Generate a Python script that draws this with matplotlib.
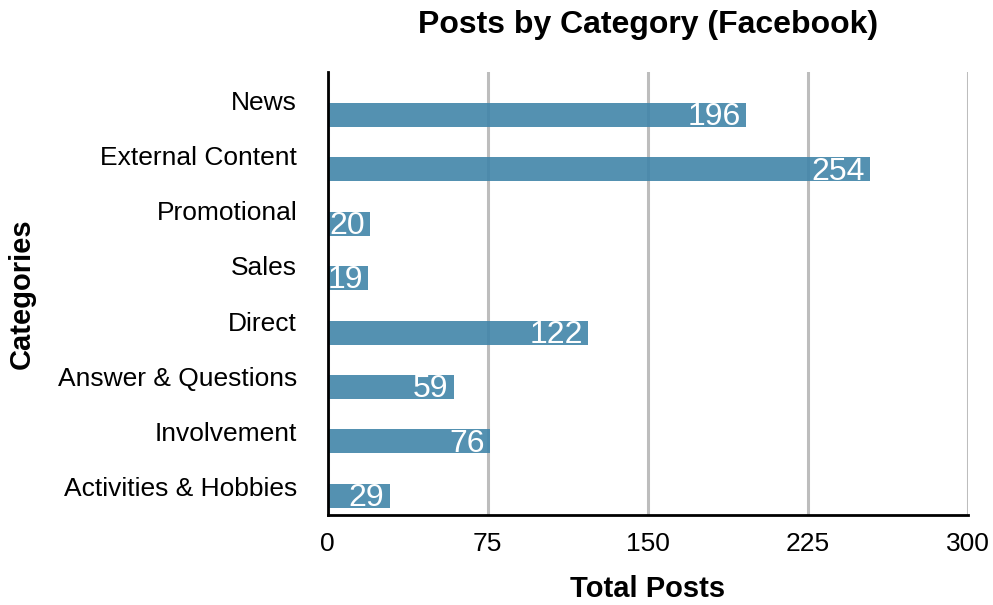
import matplotlib.pyplot as plt

# Data
categories = [
    "News", "External Content", "Promotional", "Sales",
    "Direct", "Answer & Questions", "Involvement", "Activities & Hobbies",
]
total_posts = [196, 254, 20, 19, 122, 59, 76, 29]
x_ticks = [0, 75, 150, 225, 300]

plt.rcParams["font.family"] = ["Liberation Sans", "DejaVu Sans"]

fig = plt.figure(figsize=(9.93, 6.05), dpi=100)
ax = fig.add_axes([0.330, 0.149, 0.645, 0.732])

pos = list(range(len(categories)))
ax.barh(pos, total_posts, height=0.44, color="#4185a9", alpha=0.9, zorder=3)

for p, v in zip(pos, total_posts):
    ax.text(v - 2.5, p + 0.04, str(v), color="white", fontsize=23,
            ha="right", va="center", zorder=4)

ax.set_xlim(0, 300)
ax.set_ylim(7.35, -0.79)
ax.set_xticks(x_ticks)
ax.set_xticklabels([str(t) for t in x_ticks], fontsize=19)
# category labels sit a bit above their bars, slightly wider spaced
ax.set_yticks([p * 1.015 - 0.27 for p in pos])
ax.set_yticklabels(categories, fontsize=19)
ax.tick_params(length=0)
ax.tick_params(axis="x", pad=12)
ax.tick_params(axis="y", pad=22)

ax.grid(axis="x", color="#bdbdbd", linewidth=2.2, zorder=1)
ax.set_axisbelow(True)
for s in ["top", "right"]:
    ax.spines[s].set_visible(False)
for s in ["left", "bottom"]:
    ax.spines[s].set_linewidth(2)
    ax.spines[s].set_color("black")
    ax.spines[s].set_zorder(5)

ax.set_title("Posts by Category (Facebook)", fontsize=23, fontweight="bold", pad=28)
ax.set_xlabel("Total Posts", fontsize=21, fontweight="bold", labelpad=14)
ax.set_ylabel("Categories", fontsize=21, fontweight="bold", labelpad=16)

fig.savefig("out.png", dpi=100)
